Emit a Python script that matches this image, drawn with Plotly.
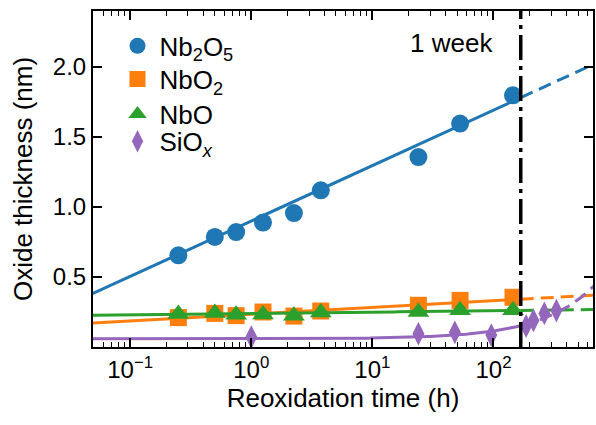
import numpy as np
import plotly.graph_objects as go

# Reoxidation times (h)
t_nb = [0.25, 0.5, 0.75, 1.25, 2.25, 3.75, 24, 53, 145]
t_si = [1, 24, 48, 96, 186, 214, 263, 331]

# Oxide thicknesses (nm)
nb2o5 = [0.655, 0.786, 0.821, 0.889, 0.957, 1.119, 1.357, 1.596, 1.798]
nbo2 = [0.210, 0.240, 0.224, 0.250, 0.221, 0.257, 0.298, 0.333, 0.355]
nbo = [0.235, 0.243, 0.230, 0.233, 0.224, 0.247, 0.250, 0.262, 0.262]
siox = [0.071, 0.095, 0.105, 0.085, 0.150, 0.190, 0.240, 0.260]

# Growth fits: Nb oxides d = a + b*log10(t), SiOx d = a + b*t
fit_nb2o5 = (0.900, 0.396)
fit_nbo2 = (0.234, 0.0482)
fit_nbo = (0.239, 0.00993)
fit_siox = (0.058, 0.00056)

one_week = 168  # h

C_BLUE, C_ORANGE, C_GREEN, C_PURPLE = "#1f77b4", "#ff7f0e", "#2ca02c", "#9467bd"
FONT = "Liberation Sans, Arial, sans-serif"

fig = go.Figure()

# Fit curves: solid up to one week, dashed extrapolation beyond
t_solid = np.logspace(np.log10(0.04), np.log10(one_week), 200)
t_dash = np.logspace(np.log10(one_week), np.log10(800), 100)


def log_fit(p, t):
    return p[0] + p[1] * np.log10(t)


def lin_fit(p, t):
    return p[0] + p[1] * t


fits = [
    (fit_nb2o5, log_fit, C_BLUE),
    (fit_nbo2, log_fit, C_ORANGE),
    (fit_nbo, log_fit, C_GREEN),
    (fit_siox, lin_fit, C_PURPLE),
]

series = [
    ("Nb<sub>2</sub>O<sub>5</sub>", t_nb, nb2o5, C_BLUE, "circle", 18),
    ("NbO<sub>2</sub>", t_nb, nbo2, C_ORANGE, "square", 17),
    ("NbO", t_nb, nbo, C_GREEN, "triangle-up", 19),
    ("SiO<sub><i>x</i></sub>", t_si, siox, C_PURPLE, "diamond-tall", 17),
]

# one legend box per entry so the rows can be spaced freely
legend_names = ["legend", "legend2", "legend3", "legend4"]
legend_rows = [0.896, 0.797, 0.693, 0.612]

for i, (name, t, d, color, symbol, size) in enumerate(series):
    fig.add_trace(go.Scatter(
        x=t, y=d, mode="markers", name=name, legend=legend_names[i],
        marker=dict(color=color, symbol=symbol, size=size, line=dict(width=0)),
    ))
    p, f, c = fits[i]
    fig.add_trace(go.Scatter(
        x=t_solid, y=f(p, t_solid), mode="lines", showlegend=False,
        line=dict(color=c, width=3), hoverinfo="skip",
    ))
    fig.add_trace(go.Scatter(
        x=t_dash, y=f(p, t_dash), mode="lines", showlegend=False,
        line=dict(color=c, width=3, dash="13px,7px"), hoverinfo="skip",
    ))

# One-week marker
fig.add_trace(go.Scatter(
    x=[one_week, one_week], y=[0, 2.4], mode="lines", showlegend=False,
    line=dict(color="black", width=3.5, dash="25px,6px,4px,6px"), hoverinfo="skip",
))
fig.add_annotation(
    x=np.log10(one_week), y=2.17, xref="x", yref="y", text="1 week",
    showarrow=False, xanchor="right", yanchor="middle", xshift=-26,
    font=dict(size=26, color="black", family=FONT),
)

minor_x = [k * 10.0 ** e for e in range(-2, 3) for k in range(2, 10)]

axis_common = dict(
    showline=True, linewidth=2, linecolor="black", mirror="allticks",
    ticks="inside", ticklen=9, tickwidth=1.6, tickcolor="black",
    showgrid=False, zeroline=False,
    tickfont=dict(size=24, color="black", family=FONT),
)

fig.update_xaxes(
    type="log", range=[-1.307, 2.822],
    tickmode="array", tickvals=[0.1, 1, 10, 100],
    ticktext=["10<sup>−1</sup>", "10<sup>0</sup>", "10<sup>1</sup>", "10<sup>2</sup>"],
    minor=dict(ticks="inside", ticklen=5, tickwidth=1.2, tickcolor="black",
               tickmode="array", tickvals=minor_x, showgrid=False),
    title=dict(text="Reoxidation time (h)", font=dict(size=26, color="black", family=FONT),
               standoff=6),
    **axis_common,
)
fig.update_yaxes(
    range=[0, 2.4], tickmode="array", tickvals=[0.5, 1.0, 1.5, 2.0],
    ticktext=["0.5", "1.0", "1.5", "2.0"],
    title=dict(text="Oxide thickness (nm)", font=dict(size=26, color="black", family=FONT),
               standoff=13),
    **axis_common,
)

legend_style = dict(
    x=0.045, xanchor="left", yanchor="middle",
    bgcolor="rgba(0,0,0,0)", borderwidth=0,
    font=dict(size=26, color="black", family=FONT),
    itemsizing="trace", itemwidth=34,
)

fig.update_layout(
    width=596, height=425,
    margin=dict(l=93, r=1, t=11, b=78),
    paper_bgcolor="white", plot_bgcolor="white",
    font=dict(family=FONT, color="black"),
    showlegend=True,
    **{ln: dict(y=yr, **legend_style) for ln, yr in zip(legend_names, legend_rows)},
)

fig.write_html("out.html")
